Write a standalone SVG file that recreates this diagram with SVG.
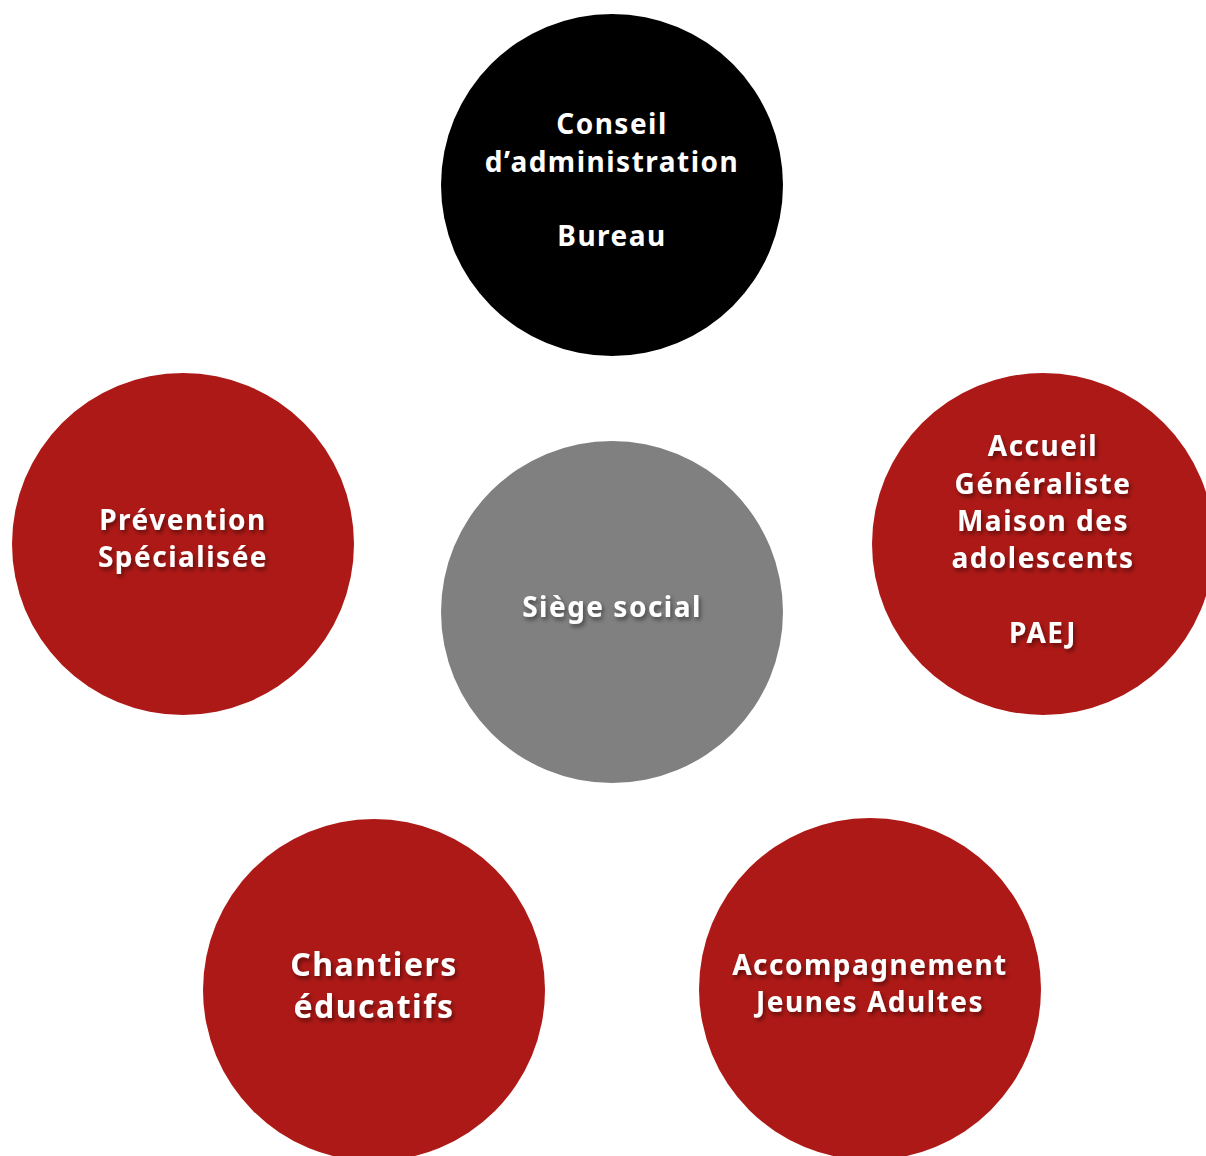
<svg xmlns="http://www.w3.org/2000/svg" width="1206" height="1156" viewBox="0 0 1206 1156">
  <defs>
    <filter id="shadow" x="-20%" y="-40%" width="140%" height="180%">
      <feDropShadow dx="2" dy="3" stdDeviation="2" flood-color="#000" flood-opacity="0.45"/>
    </filter>
  </defs>
  <style>
    .red { fill: #ad1916; }
    .grey { fill: #808080; }
    .black { fill: #000; }
    text { font-family: "Noto Sans", "DejaVu Sans", sans-serif; font-weight: 700; fill: #fff; text-anchor: middle; font-size: 28px; letter-spacing: 1.5px; }
    .sh { filter: url(#shadow); }
    .big { font-size: 32px; }
  </style>
  <rect width="1206" height="1156" fill="#fff"/>
  <g id="connectors"></g>

  <g id="conseil">
    <circle class="black" cx="612" cy="185" r="171"/>
    <text x="612" y="134">Conseil</text>
    <text x="612" y="172">d’administration</text>
    <text x="612" y="246">Bureau</text>
  </g>

  <g id="siege">
    <circle class="grey" cx="612" cy="612" r="171"/>
    <text class="sh" x="612" y="617">Siège social</text>
  </g>

  <g id="prevention">
    <circle class="red" cx="183" cy="544" r="171"/>
    <text class="sh" x="183" y="530">Prévention</text>
    <text class="sh" x="183" y="567">Spécialisée</text>
  </g>

  <g id="accueil">
    <circle class="red" cx="1043" cy="544" r="171"/>
    <text class="sh" x="1043" y="456">Accueil</text>
    <text class="sh" x="1043" y="494">Généraliste</text>
    <text class="sh" x="1043" y="531">Maison des</text>
    <text class="sh" x="1043" y="568">adolescents</text>
    <text class="sh" x="1043" y="643">PAEJ</text>
  </g>

  <g id="chantiers">
    <circle class="red" cx="374" cy="990" r="171"/>
    <text class="sh big" x="374" y="976">Chantiers</text>
    <text class="sh big" x="374" y="1018">éducatifs</text>
  </g>

  <g id="accompagnement">
    <circle class="red" cx="870" cy="989" r="171"/>
    <text class="sh" x="870" y="975">Accompagnement</text>
    <text class="sh" x="870" y="1012">Jeunes Adultes</text>
  </g>
</svg>
